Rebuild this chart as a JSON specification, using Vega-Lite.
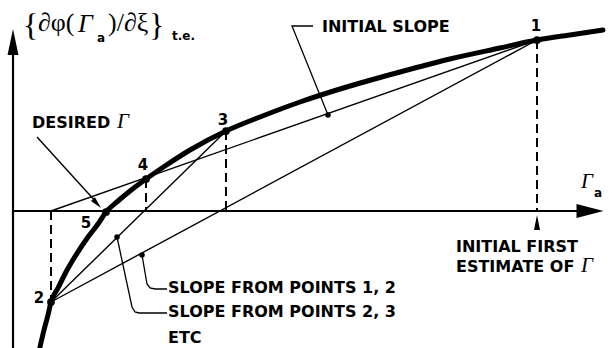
{
  "$schema": "https://vega.github.io/schema/vega-lite/v6.json",
  "width": 613,
  "height": 348,
  "padding": 0,
  "autosize": {"type": "none"},
  "background": "white",
  "config": {"view": {"stroke": null}},
  "datasets": {
    "curve": [
      {"x": 27, "y": -136}, {"x": 31, "y": -119}, {"x": 35, "y": -104}, {"x": 38, "y": -91},
      {"x": 45, "y": -77}, {"x": 53, "y": -61}, {"x": 63, "y": -44}, {"x": 75, "y": -26},
      {"x": 85, "y": -13}, {"x": 93, "y": -1}, {"x": 105, "y": 10}, {"x": 117, "y": 20},
      {"x": 133, "y": 32}, {"x": 152, "y": 45}, {"x": 177, "y": 61}, {"x": 213, "y": 80},
      {"x": 247, "y": 94}, {"x": 287, "y": 109}, {"x": 337, "y": 125}, {"x": 387, "y": 139},
      {"x": 437, "y": 152}, {"x": 487, "y": 163}, {"x": 524, "y": 171}, {"x": 557, "y": 176},
      {"x": 590, "y": 181}
    ],
    "axes": [
      {"x": 0, "y": -137, "x2": 0, "y2": 160},
      {"x": 0, "y": 0, "x2": 580, "y2": 0}
    ],
    "secants": [
      {"name": "initial slope", "x": 524, "y": 171, "x2": 38, "y2": 0},
      {"name": "points 1-2", "x": 524, "y": 171, "x2": 38, "y2": -91},
      {"name": "points 2-3", "x": 38, "y": -91, "x2": 213, "y2": 80},
      {"name": "desired pointer", "x": 24, "y": 74, "x2": 84, "y2": 8}
    ],
    "drops": [
      {"x": 524, "y": 171, "x2": 524, "y2": 0},
      {"x": 213, "y": 80, "x2": 213, "y2": 0},
      {"x": 133, "y": 32, "x2": 133, "y2": 0},
      {"x": 38, "y": 0, "x2": 38, "y2": -91}
    ],
    "leaders": [
      {"id": "a", "k": 0, "x": 315, "y": 96}, {"id": "a", "k": 1, "x": 279, "y": 185}, {"id": "a", "k": 2, "x": 300, "y": 185},
      {"id": "b", "k": 0, "x": 129, "y": -44}, {"id": "b", "k": 1, "x": 134, "y": -73}, {"id": "b", "k": 2, "x": 137, "y": -77},
      {"id": "b", "k": 3, "x": 142, "y": -78}, {"id": "b", "k": 4, "x": 154, "y": -78},
      {"id": "c", "k": 0, "x": 104, "y": -26}, {"id": "c", "k": 1, "x": 119, "y": -96}, {"id": "c", "k": 2, "x": 122, "y": -101},
      {"id": "c", "k": 3, "x": 126, "y": -102}, {"id": "c", "k": 4, "x": 154, "y": -102}
    ],
    "iterates": [
      {"n": 1, "x": 524, "y": 171}, {"n": 2, "x": 38, "y": -91}, {"n": 3, "x": 213, "y": 80},
      {"n": 4, "x": 133, "y": 32}, {"n": 5, "x": 93, "y": -1}
    ],
    "slopeDots": [
      {"x": 315, "y": 96}, {"x": 129, "y": -44}, {"x": 104, "y": -26}
    ],
    "texts": [
      {"role": "label", "x": 19, "y": 83, "t": "DESIRED"},
      {"role": "label", "x": 309, "y": 179, "t": "INITIAL SLOPE"},
      {"role": "label", "x": 155, "y": -82, "t": "SLOPE FROM POINTS 1, 2"},
      {"role": "label", "x": 155, "y": -106, "t": "SLOPE FROM POINTS 2, 3"},
      {"role": "label", "x": 155, "y": -132, "t": "ETC"},
      {"role": "label", "x": 443, "y": -41, "t": "INITIAL FIRST"},
      {"role": "label", "x": 443, "y": -61, "t": "ESTIMATE OF"},
      {"role": "num", "x": 523, "y": 180, "t": "1"},
      {"role": "num", "x": 26, "y": -92, "t": "2"},
      {"role": "num", "x": 210, "y": 86, "t": "3"},
      {"role": "num", "x": 130, "y": 41, "t": "4"},
      {"role": "num", "x": 73, "y": -17, "t": "5"},
      {"role": "gamma", "x": 104, "y": 83, "t": "Γ"},
      {"role": "gamma", "x": 568, "y": -61, "t": "Γ"},
      {"role": "gamma", "x": 568, "y": 23, "t": "Γ"},
      {"role": "sub", "x": 581, "y": 14, "t": "a"},
      {"role": "brace", "x": 10, "y": 175, "t": "{"},
      {"role": "math", "x": 25, "y": 180, "t": "∂φ("},
      {"role": "gammaBig", "x": 65, "y": 179, "t": "Γ"},
      {"role": "sub", "x": 84, "y": 169, "t": "a"},
      {"role": "math", "x": 95, "y": 180, "t": ")/∂ξ"},
      {"role": "brace", "x": 136, "y": 175, "t": "}"},
      {"role": "sub", "x": 159, "y": 171, "t": "t.e."}
    ]
  },
  "encoding": {
    "x": {"field": "x", "type": "quantitative", "axis": null, "scale": {"domain": [-13, 600], "nice": false, "zero": false}},
    "y": {"field": "y", "type": "quantitative", "axis": null, "scale": {"domain": [-137, 211], "nice": false, "zero": false}}
  },
  "layer": [
    {
      "data": {"name": "axes"},
      "mark": {"type": "rule", "color": "black", "strokeWidth": 2.2},
      "encoding": {"x2": {"field": "x2"}, "y2": {"field": "y2"}}
    },
    {
      "data": {"name": "drops"},
      "mark": {"type": "rule", "color": "black", "strokeWidth": 2, "strokeDash": [9, 5]},
      "encoding": {"x2": {"field": "x2"}, "y2": {"field": "y2"}}
    },
    {
      "data": {"name": "secants"},
      "mark": {"type": "rule", "color": "black", "strokeWidth": 1.4},
      "encoding": {"x2": {"field": "x2"}, "y2": {"field": "y2"}}
    },
    {
      "data": {"name": "leaders"},
      "mark": {"type": "line", "color": "black", "strokeWidth": 1.3},
      "encoding": {"detail": {"field": "id"}, "order": {"field": "k"}}
    },
    {
      "data": {"name": "curve"},
      "mark": {"type": "line", "color": "black", "strokeWidth": 5, "strokeCap": "round", "interpolate": "monotone"},
      "encoding": {}
    },
    {
      "data": {"name": "iterates"},
      "mark": {"type": "point", "filled": true, "color": "black", "opacity": 1, "size": 60},
      "encoding": {}
    },
    {
      "data": {"name": "slopeDots"},
      "mark": {"type": "point", "filled": true, "color": "black", "opacity": 1, "size": 30},
      "encoding": {}
    },
    {
      "data": {"values": [{"x": 0, "y": 169}]},
      "mark": {"type": "point", "filled": true, "color": "black", "opacity": 1, "size": 676, "shape": "M0,-1L0.42,1L-0.42,1Z"},
      "encoding": {}
    },
    {
      "data": {"values": [{"x": 577, "y": 0}]},
      "mark": {"type": "point", "filled": true, "color": "black", "opacity": 1, "size": 729, "shape": "M1,0L-1,-0.52L-1,0.52Z"},
      "encoding": {}
    },
    {
      "data": {"values": [{"x": 524, "y": -11.5}]},
      "mark": {"type": "point", "filled": true, "color": "black", "opacity": 1, "size": 225, "shape": "M0,-1L0.4,1L-0.4,1Z"},
      "encoding": {}
    },
    {
      "data": {"values": [{"x": 84, "y": 7.4}]},
      "mark": {"type": "point", "filled": true, "color": "black", "opacity": 1, "size": 144, "angle": 138, "shape": "M0,-1L0.45,1L-0.45,1Z"},
      "encoding": {}
    },
    {
      "data": {"name": "texts"},
      "transform": [{"filter": "datum.role === 'label'"}],
      "mark": {"type": "text", "font": "DejaVu Sans", "fontWeight": "bold", "fontSize": 16, "align": "left", "baseline": "alphabetic", "color": "black"},
      "encoding": {"text": {"field": "t"}}
    },
    {
      "data": {"name": "texts"},
      "transform": [{"filter": "datum.role === 'num'"}],
      "mark": {"type": "text", "font": "DejaVu Sans", "fontWeight": "bold", "fontSize": 15, "align": "center", "baseline": "alphabetic", "color": "black"},
      "encoding": {"text": {"field": "t"}}
    },
    {
      "data": {"name": "texts"},
      "transform": [{"filter": "datum.role === 'sub'"}],
      "mark": {"type": "text", "font": "DejaVu Sans", "fontWeight": "bold", "fontSize": 12, "align": "left", "baseline": "alphabetic", "color": "black"},
      "encoding": {"text": {"field": "t"}}
    },
    {
      "data": {"name": "texts"},
      "transform": [{"filter": "datum.role === 'gamma'"}],
      "mark": {"type": "text", "font": "Liberation Serif", "fontStyle": "italic", "fontSize": 21, "align": "left", "baseline": "alphabetic", "color": "black"},
      "encoding": {"text": {"field": "t"}}
    },
    {
      "data": {"name": "texts"},
      "transform": [{"filter": "datum.role === 'gammaBig'"}],
      "mark": {"type": "text", "font": "Liberation Serif", "fontStyle": "italic", "fontSize": 26, "align": "left", "baseline": "alphabetic", "color": "black"},
      "encoding": {"text": {"field": "t"}}
    },
    {
      "data": {"name": "texts"},
      "transform": [{"filter": "datum.role === 'math'"}],
      "mark": {"type": "text", "font": "Liberation Serif", "fontSize": 26, "align": "left", "baseline": "alphabetic", "color": "black"},
      "encoding": {"text": {"field": "t"}}
    },
    {
      "data": {"name": "texts"},
      "transform": [{"filter": "datum.role === 'brace'"}],
      "mark": {"type": "text", "font": "Liberation Serif", "fontSize": 32, "align": "left", "baseline": "alphabetic", "color": "black"},
      "encoding": {"text": {"field": "t"}}
    }
  ]
}
